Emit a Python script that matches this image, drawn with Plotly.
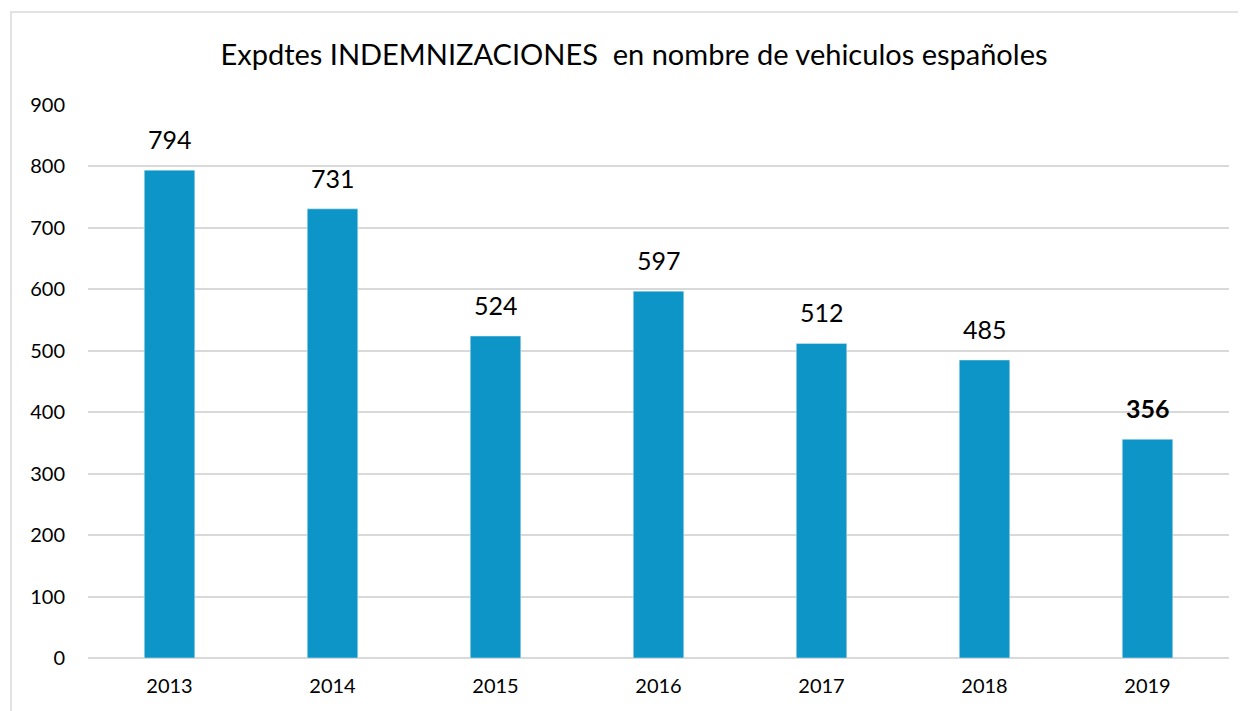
import plotly.graph_objects as go

years = ["2013", "2014", "2015", "2016", "2017", "2018", "2019"]
values = [794, 731, 524, 597, 512, 485, 356]
bold_flags = [False, False, False, False, False, False, True]
title_text = "Expdtes INDEMNIZACIONES  en nombre de vehiculos españoles"

# page has ~8px body margin; figure coordinates are page coordinates minus 8
W, H = 1238, 703
L, R, T, B = 80, 17, 97, 53
pw, ph = W - L - R, H - T - B
FONT = "Lato, Open Sans, sans-serif"

fig = go.Figure(go.Bar(x=years, y=values, marker_color="#0e95c8", width=0.31, hoverinfo="x+y"))

# category index positions (numeric-looking category names are read as indices by annotations)
for i, (v, b) in enumerate(zip(values, bold_flags)):
    fig.add_annotation(x=i, y=v, text=f"<b>{v}</b>" if b else str(v), showarrow=False,
                       yanchor="bottom", yshift=14,
                       font=dict(size=25, color="#000000", family=FONT))

fig.add_shape(type="rect", xref="paper", yref="paper",
              x0=(3 - L) / pw, x1=(W + 30 - L) / pw,
              y0=-(B + 30) / ph, y1=(H - 4 - B) / ph,
              line=dict(color="#d9d9d9", width=1.5), fillcolor="rgba(0,0,0,0)", layer="below")

fig.update_layout(
    width=W, height=H,
    margin=dict(l=L, r=R, t=T, b=B),
    paper_bgcolor="white", plot_bgcolor="white",
    title=dict(text=title_text, x=626 / W, xanchor="center", y=1 - 47 / H, yanchor="middle",
               font=dict(size=29, color="#000000", family=FONT)),
    showlegend=False,
    font=dict(family=FONT, color="#000000"),
    xaxis=dict(type="category", categoryorder="array", categoryarray=years,
               range=[-0.5, len(years) - 0.5],
               showgrid=False, showline=False, ticks="", tickfont=dict(size=20),
               ticklabelstandoff=14),
    yaxis=dict(range=[0, 900], dtick=100, showgrid=True, gridcolor="#d9d9d9", gridwidth=1.5,
               zeroline=True, zerolinecolor="#d9d9d9", zerolinewidth=1.5,
               showline=False, ticks="", tickfont=dict(size=20), ticklabelstandoff=22),
)

fig.write_html("out.html")
